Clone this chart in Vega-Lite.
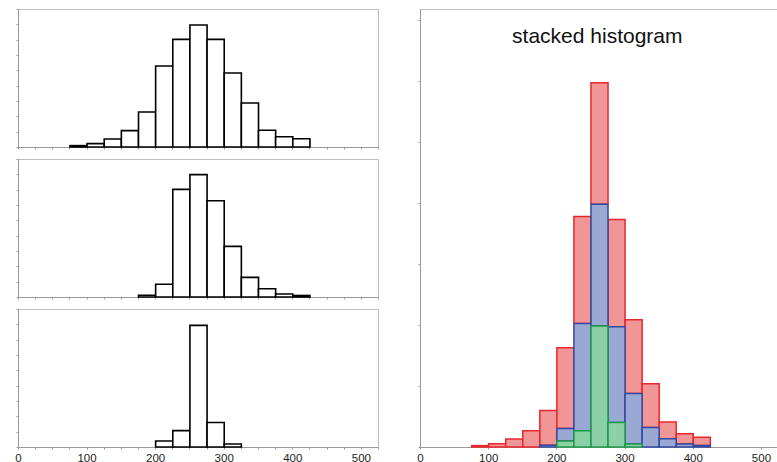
{
  "$schema": "https://vega.github.io/schema/vega-lite/v6.json",
  "padding": {"left": 14, "top": 8, "right": 0, "bottom": 0},
  "background": "white",
  "datasets": {
    "hist": [
      {"series": "dist1", "bin_start": 75, "bin_end": 100, "count": 0.09},
      {"series": "dist1", "bin_start": 100, "bin_end": 125, "count": 0.22},
      {"series": "dist1", "bin_start": 125, "bin_end": 150, "count": 0.52},
      {"series": "dist1", "bin_start": 150, "bin_end": 175, "count": 1.07},
      {"series": "dist1", "bin_start": 175, "bin_end": 200, "count": 2.28},
      {"series": "dist1", "bin_start": 200, "bin_end": 225, "count": 5.28},
      {"series": "dist1", "bin_start": 225, "bin_end": 250, "count": 7.02},
      {"series": "dist1", "bin_start": 250, "bin_end": 275, "count": 7.96},
      {"series": "dist1", "bin_start": 275, "bin_end": 300, "count": 7.02},
      {"series": "dist1", "bin_start": 300, "bin_end": 325, "count": 4.83},
      {"series": "dist1", "bin_start": 325, "bin_end": 350, "count": 2.87},
      {"series": "dist1", "bin_start": 350, "bin_end": 375, "count": 1.09},
      {"series": "dist1", "bin_start": 375, "bin_end": 400, "count": 0.67},
      {"series": "dist1", "bin_start": 400, "bin_end": 425, "count": 0.54},
      {"series": "dist2", "bin_start": 175, "bin_end": 200, "count": 0.11},
      {"series": "dist2", "bin_start": 200, "bin_end": 225, "count": 0.83},
      {"series": "dist2", "bin_start": 225, "bin_end": 250, "count": 7.02},
      {"series": "dist2", "bin_start": 250, "bin_end": 275, "count": 7.98},
      {"series": "dist2", "bin_start": 275, "bin_end": 300, "count": 6.28},
      {"series": "dist2", "bin_start": 300, "bin_end": 325, "count": 3.3},
      {"series": "dist2", "bin_start": 325, "bin_end": 350, "count": 1.28},
      {"series": "dist2", "bin_start": 350, "bin_end": 375, "count": 0.54},
      {"series": "dist2", "bin_start": 375, "bin_end": 400, "count": 0.2},
      {"series": "dist2", "bin_start": 400, "bin_end": 425, "count": 0.1},
      {"series": "dist3", "bin_start": 200, "bin_end": 225, "count": 0.39},
      {"series": "dist3", "bin_start": 225, "bin_end": 250, "count": 1.07},
      {"series": "dist3", "bin_start": 250, "bin_end": 275, "count": 7.93},
      {"series": "dist3", "bin_start": 275, "bin_end": 300, "count": 1.6},
      {"series": "dist3", "bin_start": 300, "bin_end": 325, "count": 0.2}
    ]
  },
  "data": {"name": "hist"},
  "config": {
    "view": {"stroke": "#bdbdbd", "strokeWidth": 1},
    "axis": {
      "domainColor": "#9a9a9a",
      "tickColor": "#9a9a9a",
      "tickSize": 2,
      "grid": false,
      "labelFont": "Liberation Sans",
      "labelFontSize": 11.5,
      "labelColor": "#222222",
      "labelFlush": false,
      "labelPadding": 3
    },
    "font": "Liberation Sans"
  },
  "resolve": {"scale": {"x": "independent", "y": "independent", "fill": "independent", "stroke": "independent"}},
  "spacing": 37,
  "hconcat": [
    {
      "spacing": 8,
      "resolve": {"scale": {"x": "independent", "y": "independent"}},
      "vconcat": [
        {
          "width": 360, "height": 138,
          "transform": [{"filter": "datum.series === 'dist1'"}],
          "mark": {"type": "bar", "fill": "white", "stroke": "black", "strokeWidth": 1.6, "binSpacing": 0},
          "encoding": {
            "x": {"field": "bin_start", "type": "quantitative", "bin": "binned", "scale": {"domain": [0, 525], "nice": false},
                  "axis": {"title": null, "labels": false, "values": [0,25,50,75,100,125,150,175,200,225,250,275,300,325,350,375,400,425,450,475,500,525]}},
            "x2": {"field": "bin_end"},
            "y": {"field": "count", "type": "quantitative", "scale": {"domain": [0, 9], "nice": false},
                  "axis": {"title": null, "labels": false, "values": [0,1,2,3,4,5,6,7,8,9]}}
          }
        },
        {
          "width": 360, "height": 138,
          "transform": [{"filter": "datum.series === 'dist2'"}],
          "mark": {"type": "bar", "fill": "white", "stroke": "black", "strokeWidth": 1.6, "binSpacing": 0},
          "encoding": {
            "x": {"field": "bin_start", "type": "quantitative", "bin": "binned", "scale": {"domain": [0, 525], "nice": false},
                  "axis": {"title": null, "labels": false, "values": [0,25,50,75,100,125,150,175,200,225,250,275,300,325,350,375,400,425,450,475,500,525]}},
            "x2": {"field": "bin_end"},
            "y": {"field": "count", "type": "quantitative", "scale": {"domain": [0, 9], "nice": false},
                  "axis": {"title": null, "labels": false, "values": [0,1,2,3,4,5,6,7,8,9]}}
          }
        },
        {
          "width": 360, "height": 138,
          "transform": [{"filter": "datum.series === 'dist3'"}],
          "mark": {"type": "bar", "fill": "white", "stroke": "black", "strokeWidth": 1.6, "binSpacing": 0},
          "encoding": {
            "x": {"field": "bin_start", "type": "quantitative", "bin": "binned", "scale": {"domain": [0, 525], "nice": false},
                  "axis": {"title": null, "labelExpr": "datum.value % 100 === 0 ? datum.label : ''", "values": [0,25,50,75,100,125,150,175,200,225,250,275,300,325,350,375,400,425,450,475,500,525]}},
            "x2": {"field": "bin_end"},
            "y": {"field": "count", "type": "quantitative", "scale": {"domain": [0, 9], "nice": false},
                  "axis": {"title": null, "labels": false, "values": [0,1,2,3,4,5,6,7,8,9]}}
          }
        }
      ]
    },
    {
      "width": 358, "height": 438,
      "layer": [
        {
          "mark": {"type": "bar", "strokeWidth": 1.5, "fillOpacity": 1, "binSpacing": 0},
          "encoding": {
            "x": {"field": "bin_start", "type": "quantitative", "bin": "binned", "scale": {"domain": [0, 525], "nice": false},
                  "axis": {"title": null, "labelExpr": "datum.value % 100 === 0 ? datum.label : ''", "values": [0,25,50,75,100,125,150,175,200,225,250,275,300,325,350,375,400,425,450,475,500,525]}},
            "x2": {"field": "bin_end"},
            "y": {"field": "count", "type": "quantitative", "stack": "zero", "scale": {"domain": [0, 28.7], "nice": false},
                  "axis": {"title": null, "labels": false, "values": [0,1,2,3,4,5,6,7,8,9,10,11,12,13,14,15,16,17,18,19,20,21,22,23,24,25,26,27,28]}},
            "order": {"field": "series", "sort": "descending"},
            "fill": {"field": "series", "type": "nominal", "legend": null,
                     "scale": {"domain": ["dist1", "dist2", "dist3"], "range": ["#f09696", "#9aa8d4", "#8cd0a5"]}},
            "stroke": {"field": "series", "type": "nominal", "legend": null,
                       "scale": {"domain": ["dist1", "dist2", "dist3"], "range": ["#e8272c", "#34499f", "#1c9a49"]}}
          }
        },
        {
          "data": {"values": [{"label": "stacked histogram"}]},
          "mark": {"type": "text", "fontSize": 21, "font": "Liberation Sans", "color": "#111111", "align": "center", "baseline": "alphabetic"},
          "encoding": {
            "text": {"field": "label"},
            "x": {"datum": 260},
            "y": {"datum": 26.5}
          }
        }
      ]
    }
  ]
}
